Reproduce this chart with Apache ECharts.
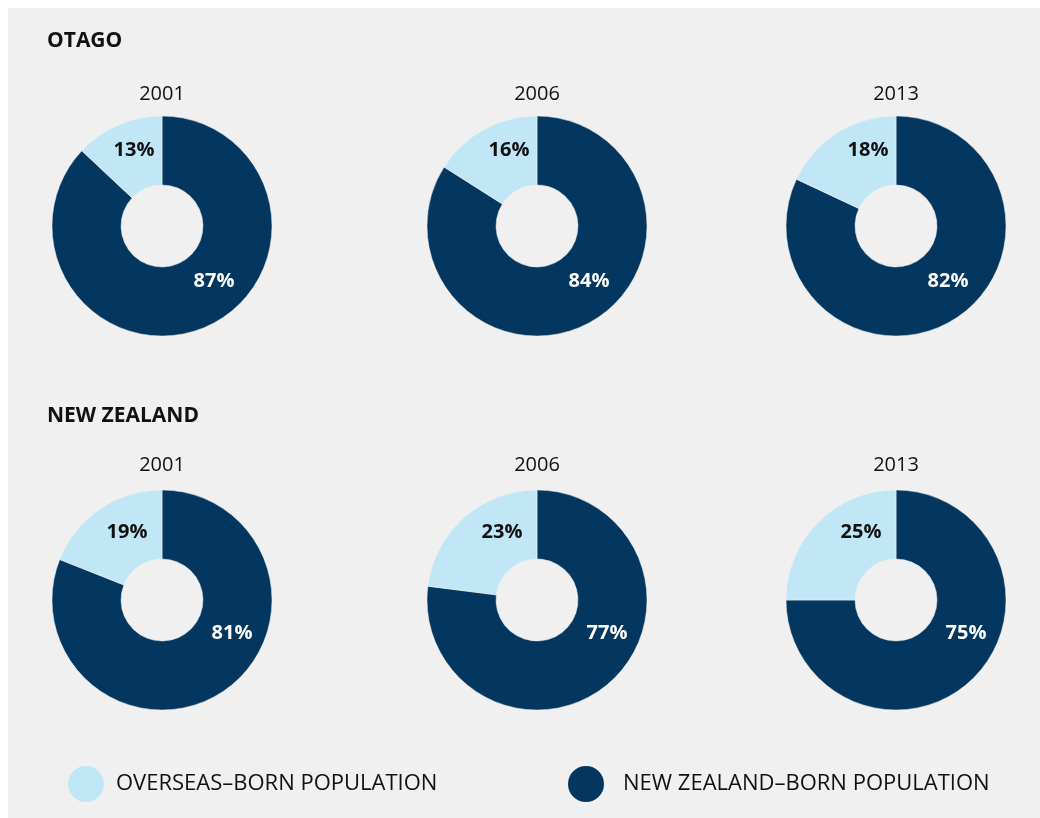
<!DOCTYPE html>
<html>
<head>
<meta charset="utf-8">
<script src="https://cdn.jsdelivr.net/npm/echarts@6/dist/echarts.min.js"></script>
<style>
  html, body { margin: 0; padding: 0; background: #ffffff; }
  #chart { position: absolute; left: 8px; top: 8px; width: 1032px; height: 810px; }
</style>
</head>
<body>
<div id="chart"></div>
<script>
// Data
const regions = ["OTAGO", "NEW ZEALAND"];
const years = ["2001", "2006", "2013"];
const overseasBorn = [
    [13, 16, 18],   // Otago
    [19, 23, 25]    // New Zealand
];
const nzBorn = [
    [87, 84, 82],
    [81, 77, 75]
];
const legendNames = ["OVERSEAS–BORN POPULATION", "NEW ZEALAND–BORN POPULATION"];

const DARK = "#03375f";
const LIGHT = "#c1e6f6";
const FONT = "Open Sans";

// layout (chart coords, the div is offset 8px from the page)
const colX = [154, 529, 888];
const rowY = [218, 592];
const titleTop = [23, 398];
const yearTop = [76, 447];
// label offsets from the pie centre, per row: [light, dark]
const labelOffsets = [
    [[-28, -76], [52, 55]],
    [[-35, -68], [70, 33]]
];

const chartDom = document.getElementById('chart');
const myChart = echarts.init(chartDom);

const titles = [];
const series = [];

regions.forEach((region, r) => {
    titles.push({
        text: region,
        left: 39,
        top: titleTop[r],
        padding: 0,
        textStyle: { fontFamily: FONT, fontSize: 21, fontWeight: 'bold', color: '#111' }
    });
    years.forEach((year, c) => {
        titles.push({
            text: year,
            left: colX[c],
            top: yearTop[r],
            textAlign: 'center',
            padding: 0,
            textStyle: { fontFamily: FONT, fontSize: 20, fontWeight: 'normal', color: '#111' }
        });
        const cx = colX[c];
        const cy = rowY[r];
        series.push({
            type: 'pie',
            center: [cx, cy],
            radius: [41, 110],
            startAngle: 90,
            clockwise: true,
            silent: true,
            itemStyle: { borderColor: '#f0f0f0', borderWidth: 0.5 },
            label: {
                show: true,
                position: 'inside',
                formatter: '{c}%',
                fontFamily: FONT,
                fontSize: 20,
                fontWeight: 'bold'
            },
            labelLine: { show: false },
            labelLayout: function (params) {
                const off = params.dataIndex === 1 ? labelOffsets[r][0] : labelOffsets[r][1];
                return {
                    x: cx + off[0],
                    y: cy + off[1],
                    align: 'center',
                    verticalAlign: 'middle'
                };
            },
            data: [
                { name: legendNames[1], value: nzBorn[r][c], itemStyle: { color: DARK }, label: { color: '#ffffff' } },
                { name: legendNames[0], value: overseasBorn[r][c], itemStyle: { color: LIGHT }, label: { color: '#111111' } }
            ]
        });
    });
});

const option = {
    backgroundColor: '#f0f0f0',
    animation: false,
    title: titles,
    legend: [
        {
            data: [legendNames[0]],
            left: 58,
            top: 756,
            padding: 0,
            icon: 'circle',
            itemWidth: 38,
            itemHeight: 38,
            selectedMode: false,
            textStyle: { fontFamily: FONT, fontSize: 22, color: '#111', padding: [0, 0, 0, 6] }
        },
        {
            data: [legendNames[1]],
            left: 558,
            top: 756,
            padding: 0,
            icon: 'circle',
            itemWidth: 38,
            itemHeight: 38,
            selectedMode: false,
            textStyle: { fontFamily: FONT, fontSize: 22, color: '#111', padding: [0, 0, 0, 13] }
        }
    ],
    series: series
};

option && myChart.setOption(option);
</script>
</body>
</html>
